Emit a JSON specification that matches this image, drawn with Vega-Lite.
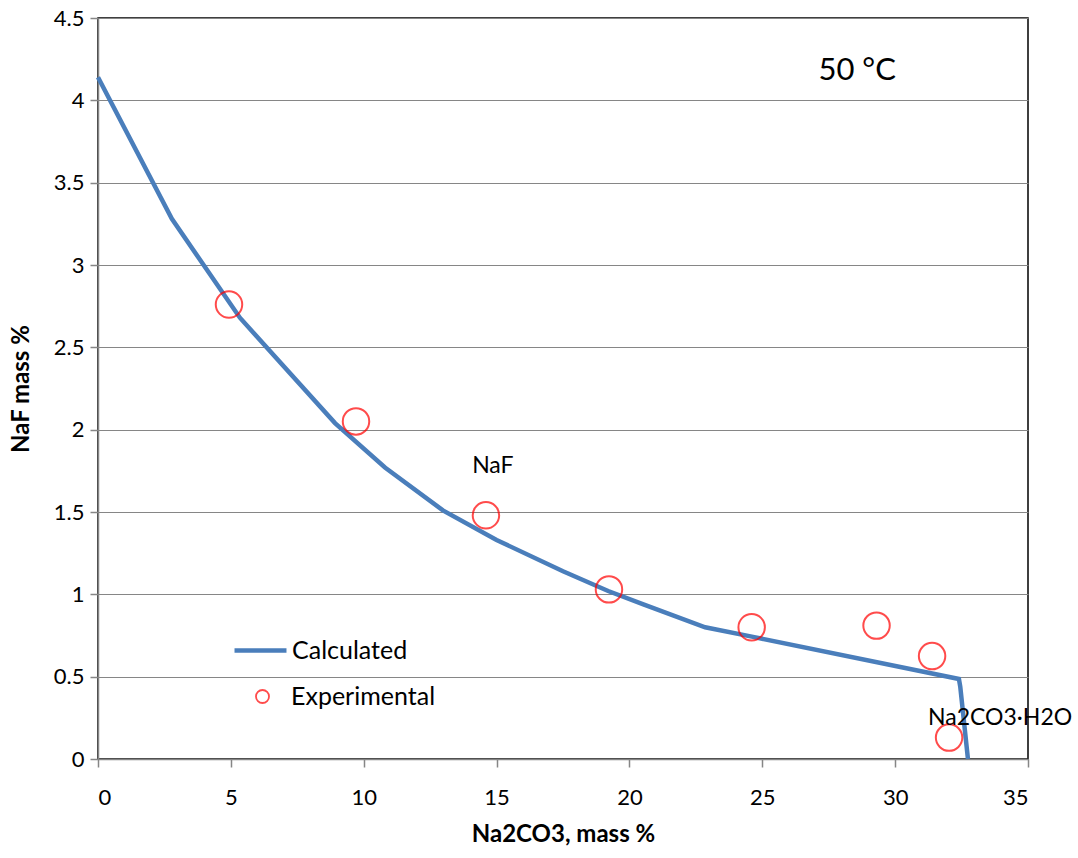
{
  "$schema": "https://vega.github.io/schema/vega-lite/v6.json",
  "autosize": {"type": "none"},
  "width": 930,
  "height": 741,
  "padding": {"left": 98, "top": 18, "right": 50, "bottom": 99},
  "background": "white",
  "config": {
    "font": "Lato",
    "view": {"stroke": "black", "strokeWidth": 1.5},
    "axis": {
      "labelFont": "Lato", "labelFontSize": 22, "labelColor": "black",
      "titleFont": "Lato", "titleFontSize": 24, "titleFontWeight": "bold", "titleColor": "black",
      "domainColor": "#868686", "domainWidth": 1.5,
      "tickColor": "#868686", "tickWidth": 1.5, "tickSize": 8,
      "gridColor": "#868686", "gridWidth": 1.2
    },
    "legend": {"labelFont": "Lato", "labelFontSize": 25, "labelColor": "black"}
  },
  "datasets": {
    "calc": [
      {"x": 0, "y": 4.14, "series": "Calculated"},
      {"x": 2.78, "y": 3.28, "series": "Calculated"},
      {"x": 5.34, "y": 2.68, "series": "Calculated"},
      {"x": 8.92, "y": 2.04, "series": "Calculated"},
      {"x": 10.8, "y": 1.77, "series": "Calculated"},
      {"x": 12.98, "y": 1.51, "series": "Calculated"},
      {"x": 15.0, "y": 1.33, "series": "Calculated"},
      {"x": 17.5, "y": 1.14, "series": "Calculated"},
      {"x": 19.2, "y": 1.02, "series": "Calculated"},
      {"x": 20.5, "y": 0.94, "series": "Calculated"},
      {"x": 22.85, "y": 0.80, "series": "Calculated"},
      {"x": 24.7, "y": 0.74, "series": "Calculated"},
      {"x": 32.4, "y": 0.486, "series": "Calculated"},
      {"x": 32.45, "y": 0.44, "series": "Calculated"},
      {"x": 32.74, "y": 0.0, "series": "Calculated"}
    ],
    "exp": [
      {"x": 4.93, "y": 2.76, "series": "Experimental"},
      {"x": 9.71, "y": 2.05, "series": "Experimental"},
      {"x": 14.6, "y": 1.48, "series": "Experimental"},
      {"x": 19.23, "y": 1.03, "series": "Experimental"},
      {"x": 24.6, "y": 0.80, "series": "Experimental"},
      {"x": 29.3, "y": 0.81, "series": "Experimental"},
      {"x": 31.39, "y": 0.625, "series": "Experimental"},
      {"x": 32.03, "y": 0.13, "series": "Experimental"}
    ],
    "labels": [
      {"x": 28.57, "y": 4.18, "text": "50 °C", "size": 31},
      {"x": 14.86, "y": 1.78, "text": "NaF", "size": 23},
      {"x": 33.95, "y": 0.25, "text": "Na2CO3·H2O", "size": 23}
    ]
  },
  "layer": [
    {
      "data": {"name": "calc"},
      "mark": {"type": "line", "strokeWidth": 4.5},
      "encoding": {
        "x": {"field": "x", "type": "quantitative", "scale": {"domain": [0, 35], "nice": false},
              "axis": {"title": "Na2CO3, mass %", "values": [0, 5, 10, 15, 20, 25, 30, 35], "grid": false, "labelPadding": 20, "titlePadding": 14}},
        "y": {"field": "y", "type": "quantitative", "scale": {"domain": [0, 4.5], "nice": false},
              "axis": {"title": "NaF mass %", "values": [0, 0.5, 1, 1.5, 2, 2.5, 3, 3.5, 4, 4.5], "format": "~g", "grid": true, "labelPadding": 6, "titlePadding": 20}},
        "order": {"field": "x", "type": "quantitative"},
        "color": {"field": "series", "type": "nominal",
          "scale": {"domain": ["Calculated"], "range": ["#4A7EBB"]},
          "legend": {"title": null, "orient": "none", "legendX": 134, "legendY": 604,
            "symbolType": "stroke", "symbolSize": 2700, "symbolStrokeWidth": 4.5, "labelOffset": 3}
        }
      }
    },
    {
      "data": {"name": "exp"},
      "mark": {"type": "point", "filled": false, "strokeWidth": 2, "size": 700, "color": "red"},
      "encoding": {
        "x": {"field": "x", "type": "quantitative"},
        "y": {"field": "y", "type": "quantitative"},
        "shape": {"field": "series", "type": "nominal",
          "scale": {"domain": ["Experimental"], "range": ["circle"]},
          "legend": {"title": null, "orient": "none", "legendX": 152, "legendY": 666,
            "symbolSize": 170, "symbolStrokeWidth": 1.8, "symbolStrokeColor": "red", "symbolFillColor": "transparent", "labelOffset": 16}
        }
      }
    },
    {
      "data": {"name": "labels"},
      "mark": {"type": "text", "align": "center", "baseline": "middle", "color": "black", "font": "Lato"},
      "encoding": {
        "x": {"field": "x", "type": "quantitative"},
        "y": {"field": "y", "type": "quantitative"},
        "text": {"field": "text"},
        "size": {"field": "size", "type": "quantitative", "scale": null}
      }
    }
  ]
}
